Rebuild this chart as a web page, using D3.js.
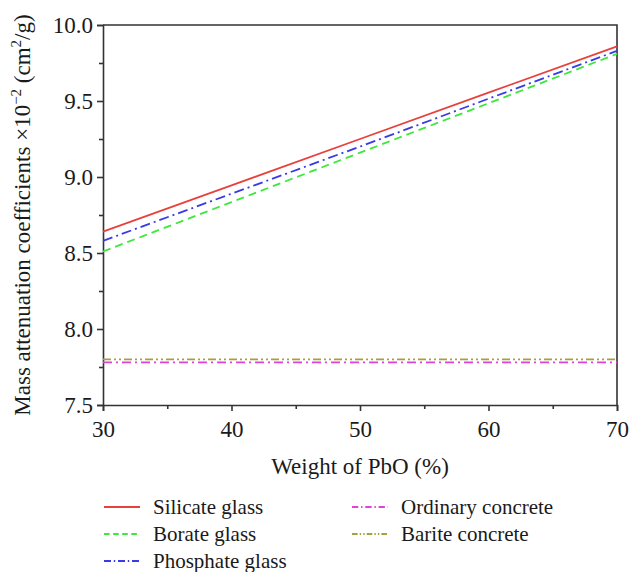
<!DOCTYPE html>
<html>
<head>
<meta charset="utf-8">
<script src="https://cdn.jsdelivr.net/npm/d3@7"></script>
<style>
  body { margin: 0; background: #fff; }
</style>
</head>
<body>
<div id="grafico"></div>
<script>
const pbo = [30, 40, 50, 60, 70];
const silicate = [8.64, 8.945, 9.25, 9.555, 9.86];
const borate = [8.51, 8.835, 9.16, 9.485, 9.81];
const phosphate = [8.58, 8.89, 9.2, 9.515, 9.83];
const ordinary = [7.78, 7.78, 7.78, 7.78, 7.78];
const barite = [7.8, 7.8, 7.8, 7.8, 7.8];
const seriesNames = ["Silicate glass", "Borate glass", "Phosphate glass", "Ordinary concrete", "Barite concrete"];
const xTicks = [30, 40, 50, 60, 70];
const yTicks = [7.5, 8.0, 8.5, 9.0, 9.5, 10.0];

const width = 630;
const height = 572;
const margin = { top: 25, right: 13, bottom: 167, left: 103 };
const fuente = "Liberation Serif";

const series = [
  { nombre: seriesNames[0], valores: silicate, color: "#e8403c", dash: null },
  { nombre: seriesNames[1], valores: borate, color: "#3ee83a", dash: "8,5" },
  { nombre: seriesNames[2], valores: phosphate, color: "#3a3ae6", dash: "10,4,2,4" },
  { nombre: seriesNames[3], valores: ordinary, color: "#e040dc", dash: "9,4,2,4" },
  { nombre: seriesNames[4], valores: barite, color: "#a8a040", dash: "8,3,2,3,2,3" },
];

const x = d3.scaleLinear().domain([30, 70]).range([margin.left, width - margin.right]);
const y = d3.scaleLinear().domain([7.5, 10]).range([height - margin.bottom, margin.top]);

const svg = d3.select("#grafico").append("svg")
  .attr("width", width)
  .attr("height", height)
  .attr("font-family", fuente);

// ejes
svg.append("g")
  .attr("transform", `translate(0, ${y(7.5)})`)
  .call(d3.axisBottom(x).tickValues(xTicks).tickFormat(d3.format("d")).tickSize(6).tickPadding(10));
svg.append("g")
  .attr("transform", `translate(0, ${y(7.5)})`)
  .call(d3.axisBottom(x).tickValues([35, 45, 55, 65]).tickFormat("").tickSize(4))
  .select(".domain").remove();

svg.append("g")
  .attr("transform", `translate(${x(30)}, 0)`)
  .call(d3.axisLeft(y).tickValues(yTicks).tickFormat(d3.format(".1f")).tickSize(6).tickPadding(4));
svg.append("g")
  .attr("transform", `translate(${x(30)}, 0)`)
  .call(d3.axisLeft(y).tickValues([7.75, 8.25, 8.75, 9.25, 9.75]).tickFormat("").tickSize(4))
  .select(".domain").remove();

svg.selectAll("g").attr("font-family", fuente);
svg.selectAll(".domain, .tick line").attr("stroke", "#333").attr("stroke-width", 1.6);
svg.selectAll(".tick text")
  .attr("font-size", 23)
  .attr("font-family", fuente)
  .attr("fill", "#1a1a1a");

// marco
svg.append("path")
  .attr("d", `M${x(30)},${y(10)}H${x(70)}V${y(7.5)}`)
  .attr("fill", "none")
  .attr("stroke", "#333")
  .attr("stroke-width", 1.6);

// lineas
const linea = d3.line()
  .x((d, i) => x(pbo[i]))
  .y((d) => y(d));

svg.append("g")
  .selectAll("path")
  .data(series)
  .join("path")
  .attr("d", (d) => linea(d.valores))
  .attr("fill", "none")
  .attr("stroke", (d) => d.color)
  .attr("stroke-width", 1.8)
  .attr("stroke-dasharray", (d) => d.dash);

// titulos
svg.append("text")
  .attr("x", (x(30) + x(70)) / 2)
  .attr("y", 474)
  .attr("text-anchor", "middle")
  .attr("fill", "#1a1a1a")
  .attr("font-family", fuente)
  .attr("font-size", 23)
  .text("Weight of PbO (%)");

const tituloY = svg.append("text")
  .attr("transform", `translate(30, ${(y(7.5) + y(10)) / 2}) rotate(-90)`)
  .attr("text-anchor", "middle")
  .attr("fill", "#1a1a1a")
  .attr("font-family", fuente)
  .attr("font-size", 23);
tituloY.append("tspan").text("Mass attenuation coefficients ×10");
tituloY.append("tspan").attr("dy", -9).attr("font-size", 15).text("−2");
tituloY.append("tspan").attr("dy", 9).text(" (cm");
tituloY.append("tspan").attr("dy", -9).attr("font-size", 15).text("2");
tituloY.append("tspan").attr("dy", 9).text("/g)");

// leyenda
const posiciones = [
  [104, 507], [104, 534], [104, 561],
  [352, 507], [352, 534],
];
const leyenda = svg.append("g");
leyenda.selectAll("g")
  .data(series)
  .join("g")
  .attr("transform", (d, i) => `translate(${posiciones[i][0]}, ${posiciones[i][1]})`)
  .each(function (d) {
    d3.select(this).append("line")
      .attr("x1", 0).attr("x2", 36)
      .attr("stroke", d.color)
      .attr("stroke-width", 1.8)
      .attr("stroke-dasharray", d.dash ? d.dash.split(",").map((v) => v * 0.7).join(",") : null);
    d3.select(this).append("text")
      .attr("x", 49)
      .attr("y", 7)
      .attr("fill", "#1a1a1a")
      .attr("font-family", fuente)
      .attr("font-size", 21)
      .text(d.nombre);
  });
</script>
</body>
</html>
